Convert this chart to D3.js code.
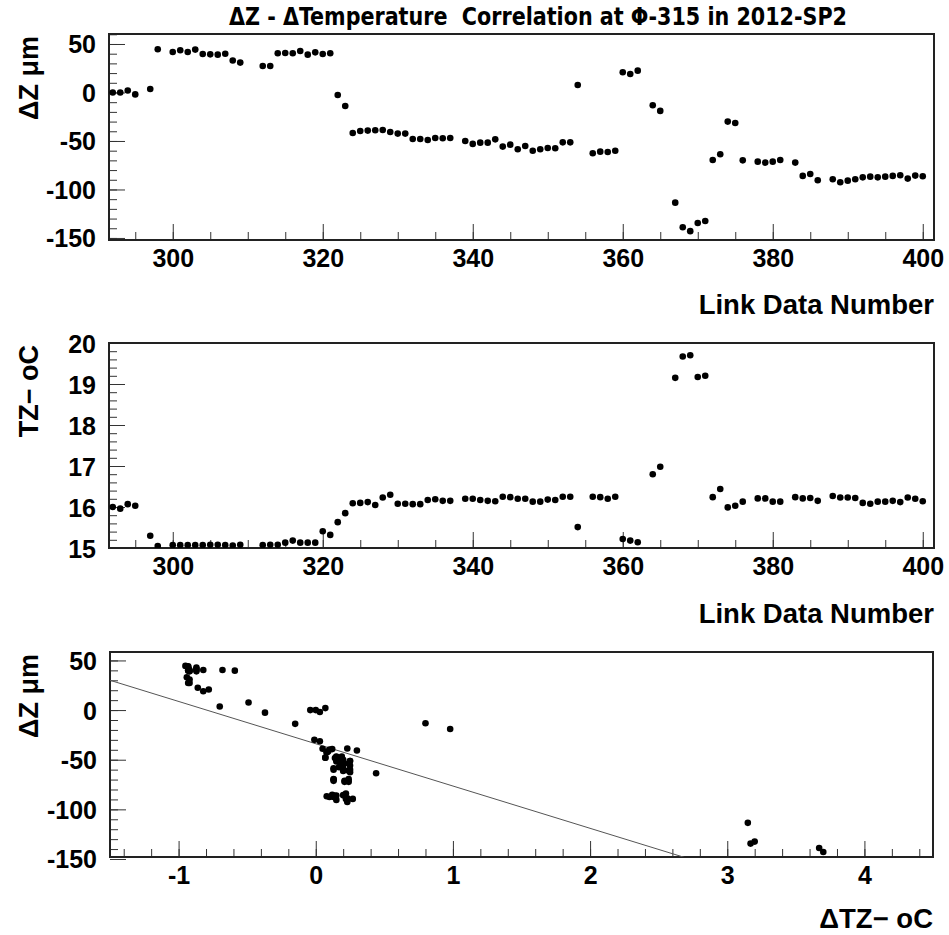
<!DOCTYPE html>
<html>
<head>
<meta charset="utf-8">
<script src="https://cdn.jsdelivr.net/npm/d3@7"></script>
<style>
  body { margin: 0; background: #fff; }
  svg { display: block; }
  text { font-family: "Liberation Sans", Arial, Helvetica, sans-serif; font-weight: bold; fill: #000; }
</style>
</head>
<body>
<svg id="chart" width="949" height="935"></svg>
<script>
// Link data numbers (runs) with the measured Z displacement (µm) and Z temperature (°C)
const linkNumbers = [
  292, 293, 294, 295, 297, 298,
  300, 301, 302, 303, 304, 305, 306, 307, 308, 309,
  312, 313, 314, 315, 316, 317, 318, 319, 320, 321, 322, 323, 324, 325, 326, 327,
  328, 329, 330, 331, 332, 333, 334, 335, 336, 337,
  339, 340, 341, 342, 343, 344, 345, 346, 347, 348, 349, 350, 351, 352, 353, 354,
  356, 357, 358, 359, 360, 361, 362,
  364, 365,
  367, 368, 369, 370, 371, 372, 373, 374, 375, 376,
  378, 379, 380, 381,
  383, 384, 385, 386,
  388, 389, 390, 391, 392, 393, 394, 395, 396, 397, 398, 399, 400
];
const deltaZ = [
  0, 0, 2, -2, 3.6, 44.5,
  41.8, 43.5, 41.8, 44.2, 39.7, 39.3, 39, 40, 33, 30.8,
  27.3, 27.3, 40.4, 40.7, 40.4, 42.8, 39, 41.4, 39.7, 40.4, -2.6, -13.9, -41.8, -39.7, -39.3, -39,
  -38.7, -40.7, -42.4, -42.4, -47.9, -47.9, -49, -46.9, -47.2, -46.9,
  -50, -53, -51.7, -51.7, -48.3, -55.8, -53.8, -58.6, -55.2, -60, -58.6, -57.2, -57.5, -51.4, -51.4, 7.7,
  -62.7, -61, -61.3, -60, 20.8, 19, 22.5,
  -13.2, -19,
  -113.6, -139, -143, -134.5, -132.5, -69.6, -63.7, -30, -31.4, -70,
  -71.3, -72.3, -71.3, -69.6,
  -72.3, -86, -84, -90.5,
  -89.5, -92.6, -90.9, -89.5, -87.5, -86.8, -87.5, -86.8, -86, -85.4, -88.8, -85.7, -86.4
];
const tempZ = [
  16.0, 15.96, 16.07, 16.03, 15.3, 15.05,
  15.07, 15.07, 15.07, 15.07, 15.07, 15.08, 15.08, 15.07, 15.06, 15.08,
  15.07, 15.08, 15.08, 15.13, 15.18, 15.13, 15.13, 15.13, 15.41, 15.32, 15.63, 15.85, 16.09, 16.1, 16.12, 16.05,
  16.23, 16.3, 16.08, 16.08, 16.07, 16.07, 16.17, 16.19, 16.15, 16.15,
  16.2, 16.2, 16.17, 16.15, 16.14, 16.25, 16.24, 16.2, 16.2, 16.13, 16.13, 16.18, 16.17, 16.25, 16.25, 15.51,
  16.25, 16.24, 16.2, 16.25, 15.22, 15.18, 15.14,
  16.8, 16.98,
  19.15, 19.67, 19.7, 19.17, 19.2, 16.24, 16.44, 15.99, 16.03, 16.13,
  16.21, 16.21, 16.13, 16.13,
  16.24, 16.21, 16.22, 16.15,
  16.27, 16.23, 16.23, 16.22, 16.1, 16.08, 16.13, 16.13, 16.15, 16.12, 16.23, 16.2, 16.14
];
// reference temperature for the ΔTZ axis, and the straight-line fit ΔZ = p0 + p1·ΔTZ
const tempReference = 16.0;
const fitIntercept = -33.9;
const fitSlope = -42.6;

// tick labels
const linkTicks = [300, 320, 340, 360, 380, 400];
const dzTicks = [50, 0, -50, -100, -150];
const tzTicks = [15, 16, 17, 18, 19, 20];
const dtTicks = [-1, 0, 1, 2, 3, 4];

const titleText = "ΔZ - ΔTemperature  Correlation at Φ-315 in 2012-SP2";

const svg = d3.select("#chart");

const rows = linkNumbers.map((n, i) => ({ n, dz: deltaZ[i], tz: tempZ[i], dt: tempZ[i] - tempReference }));

function drawPanel(cfg) {
  const { box, x, y, xMajor, xMinor, yMajor, yMinor, xTitle, yTitle, xTitleY, yTitleEnd, id } = cfg;
  const g = svg.append("g");

  g.append("clipPath").attr("id", id)
    .append("rect").attr("x", box.l).attr("y", box.t)
    .attr("width", box.r - box.l).attr("height", box.b - box.t);

  // minor + major ticks, drawn inward from the bottom and left frame edges
  const xg = g.append("g").attr("transform", `translate(0,${box.b})`);
  xg.append("g").call(d3.axisBottom(x).tickValues(xMinor).tickSize(-8).tickFormat(""));
  xg.append("g").call(d3.axisBottom(x).tickValues(xMajor).tickSize(-16).tickPadding(9).tickFormat(d => String(d)));
  xg.selectAll(".domain").remove();
  xg.selectAll("text").attr("font-size", 25).attr("dy", "0.71em");

  const yg = g.append("g").attr("transform", `translate(${box.l},0)`);
  yg.append("g").call(d3.axisLeft(y).tickValues(yMinor).tickSize(-8).tickFormat(""));
  yg.append("g").call(d3.axisLeft(y).tickValues(yMajor).tickSize(-16).tickPadding(13).tickFormat(d => String(d)));
  yg.selectAll(".domain").remove();
  yg.selectAll("text").attr("font-size", 25).attr("dy", "0.36em");

  g.selectAll(".tick line").attr("stroke", "#333").attr("stroke-width", 1);
  g.selectAll(".tick text").attr("fill", "#000").attr("font-family", null);

  // frame
  g.append("rect").attr("x", box.l).attr("y", box.t)
    .attr("width", box.r - box.l).attr("height", box.b - box.t)
    .attr("fill", "none").attr("stroke", "#222").attr("stroke-width", 2);

  // axis titles
  g.append("text").attr("x", box.r).attr("y", xTitleY)
    .attr("text-anchor", "end").attr("font-size", 27.5).text(xTitle);
  g.append("text")
    .attr("transform", `translate(38,${yTitleEnd}) rotate(-90)`)
    .attr("text-anchor", "end").attr("font-size", 27).text(yTitle);

  return g.append("g").attr("clip-path", `url(#${id})`);
}

// ---- title
svg.append("text")
  .attr("x", 229).attr("y", 25)
  .attr("font-size", 25)
  .attr("textLength", 618).attr("lengthAdjust", "spacingAndGlyphs")
  .style("white-space", "pre")
  .style("font-family", "'Liberation Sans Narrow', 'DejaVu Sans Condensed', 'Liberation Sans', sans-serif")
  .text(titleText);

// ---- panel 1: ΔZ vs link number
const box1 = { l: 109, r: 934, t: 34, b: 240 };
const x1 = d3.scaleLinear().domain([291.5, 401.5]).range([box1.l, box1.r]);
const y1 = d3.scaleLinear().domain([-152.1, 60.3]).range([box1.b, box1.t]);
const p1 = drawPanel({
  id: "clip1", box: box1, x: x1, y: y1,
  xMajor: linkTicks, xMinor: d3.range(295, 401, 5),
  yMajor: dzTicks, yMinor: d3.range(-150, 61, 10),
  xTitle: "Link Data Number", yTitle: "ΔZ μm", xTitleY: 314, yTitleEnd: 36
});
p1.selectAll("circle").data(rows).join("circle")
  .attr("cx", d => x1(d.n)).attr("cy", d => y1(d.dz)).attr("r", 3.3).attr("fill", "#000");

// ---- panel 2: TZ vs link number
const box2 = { l: 109, r: 934, t: 343, b: 548 };
const x2 = d3.scaleLinear().domain([291.5, 401.5]).range([box2.l, box2.r]);
const y2 = d3.scaleLinear().domain([15, 20]).range([box2.b, box2.t]);
const p2 = drawPanel({
  id: "clip2", box: box2, x: x2, y: y2,
  xMajor: linkTicks, xMinor: d3.range(295, 401, 5),
  yMajor: tzTicks, yMinor: d3.range(15, 20.01, 0.2),
  xTitle: "Link Data Number", yTitle: "TZ− oC", xTitleY: 623, yTitleEnd: 345
});
p2.selectAll("circle").data(rows).join("circle")
  .attr("cx", d => x2(d.n)).attr("cy", d => y2(d.tz)).attr("r", 3.3).attr("fill", "#000");

// ---- panel 3: ΔZ vs ΔTZ with linear fit
const box3 = { l: 110, r: 933, t: 652, b: 857 };
const x3 = d3.scaleLinear().domain([-1.5, 4.5]).range([box3.l, box3.r]);
const y3 = d3.scaleLinear().domain([-148, 58.5]).range([box3.b, box3.t]);
const p3 = drawPanel({
  id: "clip3", box: box3, x: x3, y: y3,
  xMajor: dtTicks, xMinor: d3.range(-1.4, 4.5, 0.2),
  yMajor: dzTicks, yMinor: d3.range(-140, 58, 10),
  xTitle: "ΔTZ− oC", yTitle: "ΔZ μm", xTitleY: 928, yTitleEnd: 654
});
const fitLine = d3.line().x(d => x3(d)).y(d => y3(fitIntercept + fitSlope * d));
p3.append("path").datum(x3.domain())
  .attr("d", fitLine).attr("fill", "none").attr("stroke", "#555").attr("stroke-width", 1);
p3.selectAll("circle").data(rows).join("circle")
  .attr("cx", d => x3(d.dt)).attr("cy", d => y3(d.dz)).attr("r", 3.3).attr("fill", "#000");
</script>
</body>
</html>
